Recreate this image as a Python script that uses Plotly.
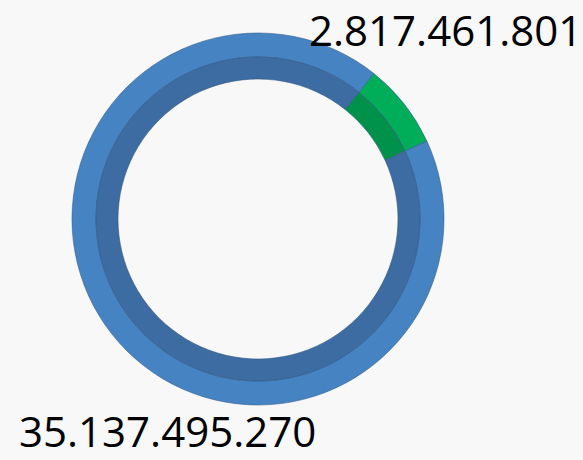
import plotly.graph_objects as go

categories = ["Segment B", "Segment A"]
values = [2817461801, 35137495270]
value_labels = ["2.817.461.801", "35.137.495.270"]

W, H = 583, 460
cx, cy = 258, 219          # ring centre in pixels (from top-left)
r_outer, r_mid, r_inner = 186, 162, 140

light = ["#00ad58", "#4683c2"]
dark = ["#00924a", "#3d6ca2"]


def dom(r):
    return dict(
        x=[(cx - r) / W, (cx + r) / W],
        y=[(H - cy - r) / H, (H - cy + r) / H],
    )


fig = go.Figure()
fig.add_trace(go.Pie(
    labels=categories, values=values, sort=False, direction="clockwise",
    rotation=38.5, hole=r_mid / r_outer, domain=dom(r_outer),
    marker=dict(colors=light, line=dict(color="#35608f", width=0.6)),
    textinfo="none", hoverinfo="label+value", showlegend=False,
))
fig.add_trace(go.Pie(
    labels=categories, values=values, sort=False, direction="clockwise",
    rotation=38.5, hole=r_inner / r_mid, domain=dom(r_mid),
    marker=dict(colors=dark, line=dict(color="#2f5784", width=0.6)),
    textinfo="none", hoverinfo="label+value", showlegend=False,
))

font = dict(family="Open Sans, Liberation Sans, sans-serif", size=42, color="#000000")
fig.add_annotation(x=1, y=1, xref="paper", yref="paper",
                   text=value_labels[0], showarrow=False, font=font,
                   xanchor="right", yanchor="top", borderpad=0)
fig.add_annotation(x=167 / W, y=0, xref="paper", yref="paper",
                   text=value_labels[1], showarrow=False, font=font,
                   xanchor="center", yanchor="bottom", borderpad=0)

fig.update_layout(
    width=W, height=H, margin=dict(l=0, r=0, t=0, b=0),
    paper_bgcolor="#f8f8f8", plot_bgcolor="#f8f8f8",
)
fig.write_html("out.html", config={"displayModeBar": False},
               post_script="document.body.style.margin='0';document.body.style.overflow='hidden';")
